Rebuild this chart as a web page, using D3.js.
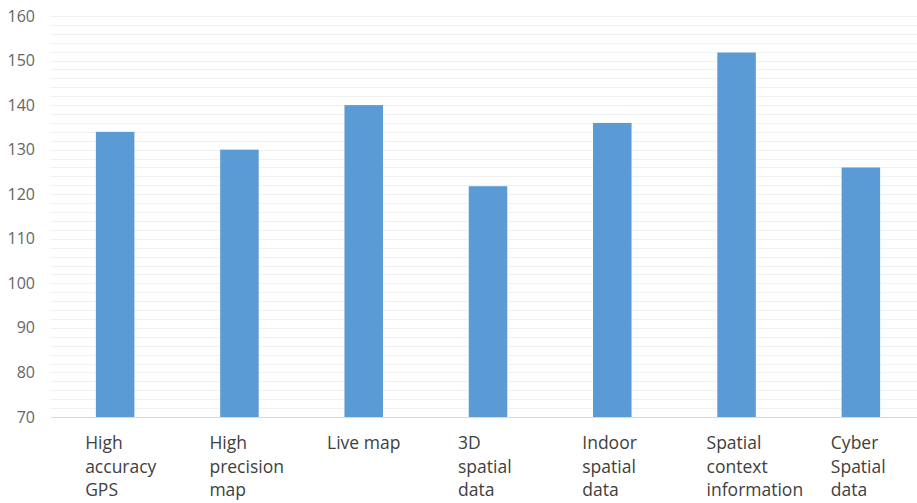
<!DOCTYPE html>
<html>
<head>
<meta charset="utf-8">
<script src="https://cdn.jsdelivr.net/npm/d3@7"></script>
<style>
  html, body { margin: 0; padding: 0; background: #fff; }
  svg { display: block; }
</style>
</head>
<body>
<div id="chart"></div>
<script>
const categories = [
    ["High", "accuracy", "GPS"],
    ["High", "precision", "map"],
    ["Live map"],
    ["3D", "spatial", "data"],
    ["Indoor", "spatial", "data"],
    ["Spatial", "context", "information"],
    ["Cyber", "Spatial", "data"]
];
const values = [134, 130, 140, 121.8, 136, 151.8, 126];
const yTicks = [70, 80, 90, 100, 110, 120, 130, 140, 150, 160];

const width = 917;
const height = 503;

const svg = d3.select("#chart")
    .append("svg")
    .attr("width", width)
    .attr("height", height);

const names = categories.map(c => c.join(" "));

const x = d3.scaleBand()
    .domain(names)
    .range([53, 923])
    .paddingInner(0.69)
    .paddingOuter(0.345);

const y = d3.scaleLinear()
    .domain([70, 160])
    .range([417, 16]);

// light gridlines every 2 units
const grid = d3.range(72, 161, 2);
svg.append("g")
    .selectAll("line")
    .data(grid)
    .enter().append("line")
    .attr("x1", 51)
    .attr("x2", width)
    .attr("y1", d => Math.round(y(d)) + 0.5)
    .attr("y2", d => Math.round(y(d)) + 0.5)
    .style("stroke", "#f0f0f0")
    .style("stroke-width", 1);

// bars
svg.append("g")
    .selectAll("rect")
    .data(values)
    .enter().append("rect")
    .attr("x", (d, i) => x(names[i]))
    .attr("width", x.bandwidth())
    .attr("y", d => y(d))
    .attr("height", d => y(70) - y(d))
    .style("fill", "#5b9bd5");

// baseline
svg.append("line")
    .attr("x1", 51)
    .attr("x2", width)
    .attr("y1", Math.round(y(70)) + 0.5)
    .attr("y2", Math.round(y(70)) + 0.5)
    .style("stroke", "#d9d9d9");

// y labels
svg.append("g")
    .selectAll("text")
    .data(yTicks)
    .enter().append("text")
    .attr("x", 35)
    .attr("y", d => y(d))
    .attr("dy", "0.35em")
    .attr("text-anchor", "end")
    .style("font-family", "'Open Sans', sans-serif")
    .style("font-size", "16px")
    .style("fill", "#666")
    .text(d => d);

// x labels (wrapped)
const xl = svg.append("g")
    .selectAll("text")
    .data(categories)
    .enter().append("text")
    .attr("x", (d, i) => {
        const c = x(names[i]) + x.bandwidth() / 2;
        return d.length === 1 ? c : c - 30;
    })
    .attr("y", 443)
    .attr("dy", "0.35em")
    .attr("text-anchor", d => d.length === 1 ? "middle" : "start")
    .style("font-family", "'Open Sans', sans-serif")
    .style("font-size", "17.5px")
    .style("fill", "#404040");

xl.each(function(d) {
    const t = d3.select(this);
    const px = t.attr("x");
    d.forEach((line, j) => {
        t.append("tspan")
            .attr("x", px)
            .attr("dy", j === 0 ? "0.35em" : "23.5px")
            .text(line);
    });
});
</script>
</body>
</html>
